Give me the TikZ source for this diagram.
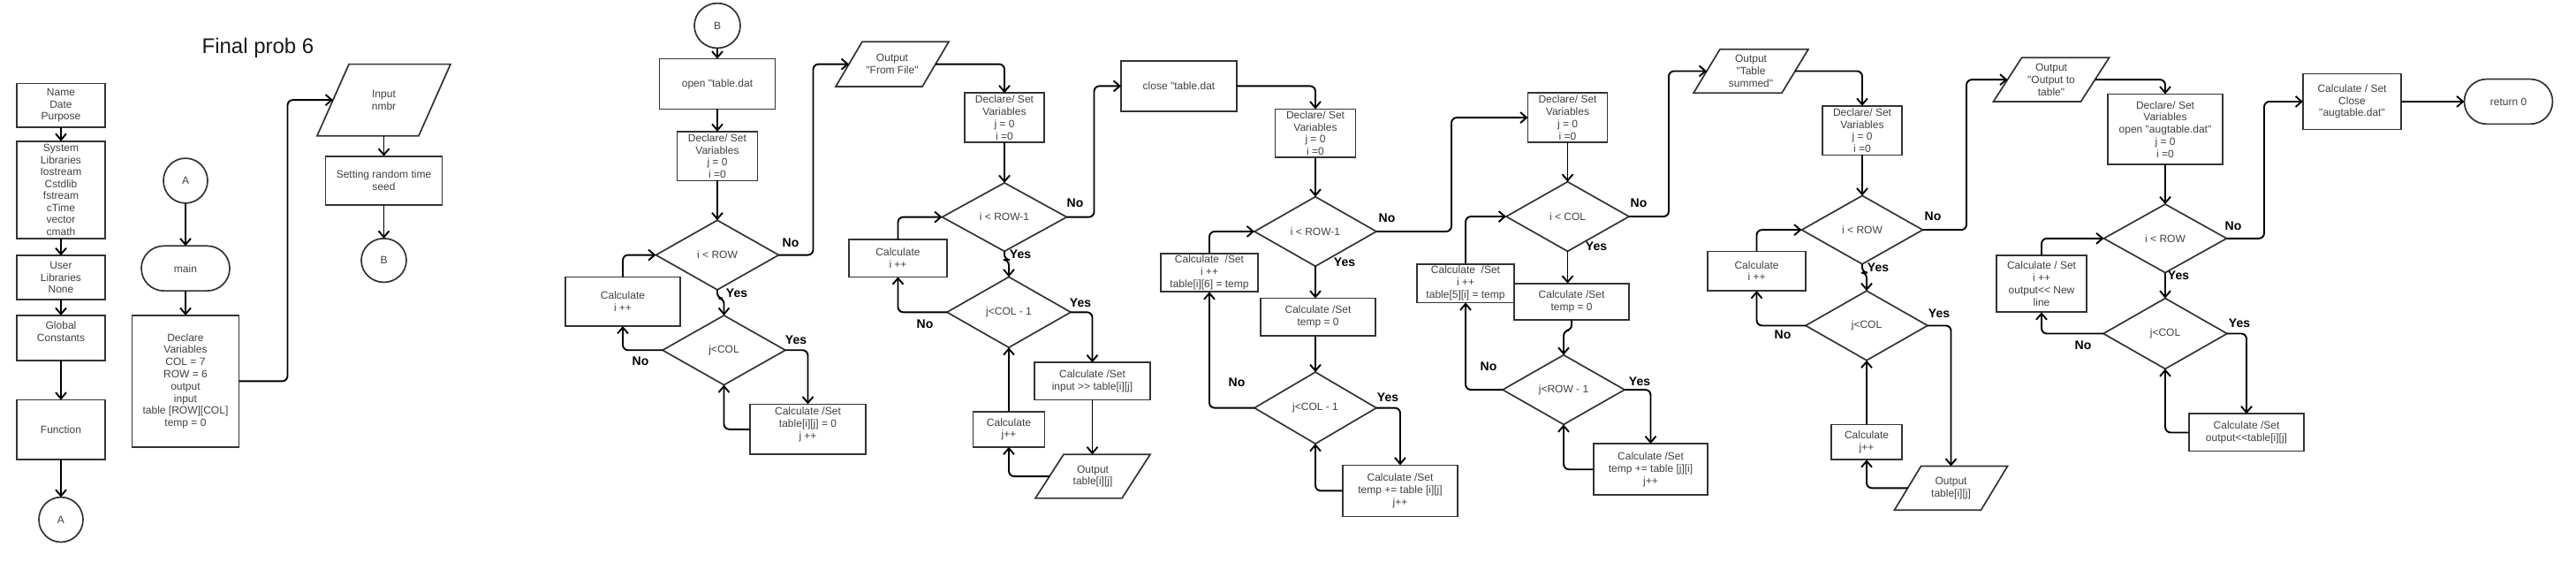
\documentclass[tikz,border=0pt]{standalone}
\usepackage{fontspec}
\newfontfamily\af{Liberation Sans}
\usetikzlibrary{shapes.geometric,shapes.misc,arrows.meta,calc}
\definecolor{boxc}{HTML}{333333}
\definecolor{txtc}{HTML}{404040}
\newcommand{\vs}{1.21}
\tikzset{
  base/.style={font=\af\fontsize{12}{13.8}\selectfont, text=txtc, align=center, inner sep=0.5pt, outer sep=0pt},
  box/.style={base, rectangle, draw=boxc, line width=1.7pt, fill=white},
  dia/.style={base, diamond, aspect=2.1, draw=boxc, line width=1.7pt, fill=white, inner sep=0pt},
  ell/.style={base, ellipse, draw=boxc, line width=1.7pt, fill=white, inner sep=0pt},
  term/.style={base, rounded rectangle, draw=boxc, line width=1.7pt, fill=white},
  ptext/.style={base, inner sep=0pt},
  pline/.style={draw=boxc, line width=1.7pt, line join=miter},
  conn/.style={draw=black, line width=1.9pt, rounded corners=6pt, -{Straight Barb[length=7pt,width=12pt]}},
  lbl/.style={font=\af\bfseries\fontsize{14}{15}\selectfont, text=black, inner sep=0pt},
  ttl/.style={font=\af\fontsize{24}{27}\selectfont, text=black!90, inner sep=0pt}
}
\newcommand{\pnode}[7]{%
  \node[ptext, minimum width=#4pt, minimum height=\vs*#5pt] (#1) at (#2,#3) {#7};
  \draw[pline] ([xshift=-#6pt]#1.south west) -- ([xshift=-#6pt]#1.south east) -- ([xshift=#6pt]#1.north east) -- ([xshift=#6pt]#1.north west) -- cycle;}
\begin{document}
\begin{tikzpicture}[x=1pt,y=-\vs pt]
\fill[white] (0,0) rectangle (2916,524.8);
\useasboundingbox (0,0) rectangle (2916,524.8);

\node[ttl] (title) at (292,45) {Final prob 6};

% column 0
\node[box, minimum width=100pt, minimum height=\vs*41pt] (n1) at (69,98.5) {Name\\Date\\Purpose};
\node[box, minimum width=100pt, minimum height=\vs*91pt, inner sep=0pt, font=\af\fontsize{12}{13.5}\selectfont] (n2) at (69,177.5) {System\\Libraries\\Iostream\\Cstdlib\\fstream\\cTime\\vector\\cmath};
\node[box, minimum width=100pt, minimum height=\vs*41pt] (n3) at (69,259.5) {User\\Libraries\\None};
\node[box, minimum width=100pt, minimum height=\vs*42pt] (n4) at (69,316) {Global\\Constants\\\mbox{}};
\node[box, minimum width=100pt, minimum height=\vs*56pt] (n5) at (69,402) {Function};
\node[ell, minimum width=50pt, minimum height=\vs*42pt] (n6) at (69,486) {A};

% column 1
\node[ell, minimum width=50pt, minimum height=\vs*42pt] (a2) at (210,169) {A};
\node[term, minimum width=101pt, minimum height=\vs*42pt] (main) at (210,251) {main};
\node[box, minimum width=121pt, minimum height=\vs*123pt] (decl) at (210,356.5) {Declare\\Variables\\COL = 7\\ROW = 6\\output\\input\\table [ROW][COL]\\temp = 0};

% column 2
\pnode{inp}{434.5}{93.5}{115}{67}{18}{Input\\nmbr}
\node[box, minimum width=132pt, minimum height=\vs*46pt] (seed) at (434.5,169) {Setting random time\\seed};
\node[ell, minimum width=51pt, minimum height=\vs*41pt] (b1) at (434.5,243.5) {B};

% column 3
\node[ell, minimum width=52pt, minimum height=\vs*42pt] (b2) at (812,24) {B};
\node[box, minimum width=131pt, minimum height=\vs*47pt] (open) at (812,78.5) {open "table.dat};
\node[box, minimum width=91pt, minimum height=\vs*46pt] (dv1) at (812,146) {Declare/ Set\\Variables\\j = 0\\i =0};
\node[dia, minimum width=139pt, minimum height=\vs*65pt] (d1) at (812,238.5) {i < ROW};
\node[dia, minimum width=139pt, minimum height=\vs*65pt] (d2) at (819.5,327.5) {j<COL};
\node[box, minimum width=131pt, minimum height=\vs*47pt, inner sep=0pt] (c1) at (914.5,401.5) {Calculate /Set\\table[i][j] = 0\\j ++\\\mbox{}};
\node[box, minimum width=130pt, minimum height=\vs*46pt] (c2) at (705,282) {Calculate\\i ++};

% column 4
\pnode{pff}{1010}{60}{98}{42}{15}{Output\\"From File"}
\node[box, minimum width=90pt, minimum height=\vs*46pt] (dv2) at (1137,110) {Declare/ Set\\Variables\\j = 0\\i =0};
\node[dia, minimum width=141pt, minimum height=\vs*64pt] (d3) at (1137,203) {i < ROW-1};
\node[dia, minimum width=140pt, minimum height=\vs*66pt] (d4) at (1142,292) {j<COL - 1};
\node[box, minimum width=131pt, minimum height=\vs*35pt] (c3) at (1236.5,356.5) {Calculate /Set\\input >> table[i][j]};
\pnode{po1}{1237}{445.5}{98}{41}{16}{Output\\table[i][j]}
\node[box, minimum width=81pt, minimum height=\vs*33pt] (c4) at (1142,401.5) {Calculate\\j++};
\node[box, minimum width=111pt, minimum height=\vs*35pt] (c5) at (1016.5,241.5) {Calculate\\i ++};
\node[box, minimum width=131pt, minimum height=\vs*47pt] (close) at (1334.5,80.5) {close "table.dat};

% column 5
\node[box, minimum width=91pt, minimum height=\vs*45pt] (dv3) at (1489,124.5) {Declare/ Set\\Variables\\j = 0\\i =0};
\node[dia, minimum width=138pt, minimum height=\vs*65pt] (d5) at (1489,216.5) {i < ROW-1};
\node[box, minimum width=130pt, minimum height=\vs*35pt] (c6) at (1492,296.5) {Calculate /Set\\temp = 0};
\node[dia, minimum width=138pt, minimum height=\vs*67pt] (d6) at (1489,381.5) {j<COL - 1};
\node[box, minimum width=130pt, minimum height=\vs*48pt] (c7) at (1585,459) {Calculate /Set\\temp += table [i][j]\\j++};
\node[box, minimum width=110pt, minimum height=\vs*36pt] (c8) at (1369,255) {Calculate\ \ /Set\\i ++\\table[i][6] = temp};

% column 6
\node[box, minimum width=90pt, minimum height=\vs*46pt] (dv4) at (1774.5,110) {Declare/ Set\\Variables\\j = 0\\i =0};
\node[dia, minimum width=139pt, minimum height=\vs*65pt] (d7) at (1774.5,202.5) {i < COL};
\node[box, minimum width=130pt, minimum height=\vs*34pt] (c9) at (1779,282) {Calculate /Set\\temp = 0};
\node[dia, minimum width=138pt, minimum height=\vs*65pt] (d8) at (1770,364.5) {j<ROW - 1};
\node[box, minimum width=129pt, minimum height=\vs*48pt] (c10) at (1868.5,439) {Calculate /Set\\temp += table [j][i]\\j++};
\node[box, minimum width=110pt, minimum height=\vs*36pt] (c11) at (1659,265) {Calculate\ \ /Set\\i ++\\table[5][i] = temp};

% column 7
\pnode{pts}{1982}{66.5}{100}{41}{15}{Output\\"Table\\summed"}
\node[box, minimum width=90pt, minimum height=\vs*46pt] (dv5) at (2108,122) {Declare/ Set\\Variables\\j = 0\\i =0};
\node[dia, minimum width=137pt, minimum height=\vs*64pt] (d9) at (2108,215) {i < ROW};
\node[dia, minimum width=138pt, minimum height=\vs*65pt] (d10) at (2113,304.5) {j<COL};
\pnode{po2}{2208.5}{456.5}{98}{41}{15}{Output\\table[i][j]}
\node[box, minimum width=80pt, minimum height=\vs*33pt] (c12) at (2113,413.5) {Calculate\\j++};
\node[box, minimum width=111pt, minimum height=\vs*37pt] (c13) at (1988.5,253.5) {Calculate\\i ++};

% column 8
\pnode{pot}{2322}{74.5}{99}{41}{16}{Output\\"Output to\\table"}
\node[box, minimum width=130pt, minimum height=\vs*66pt] (dv6) at (2451,121) {Declare/ Set\\Variables\\open "augtable.dat"\\j = 0\\i =0};
\node[dia, minimum width=139pt, minimum height=\vs*64pt] (d11) at (2451,223) {i < ROW};
\node[dia, minimum width=140pt, minimum height=\vs*66pt] (d12) at (2451,312) {j<COL};
\node[box, minimum width=130pt, minimum height=\vs*35pt] (c14) at (2543,404.5) {Calculate /Set\\output<<table[i][j]};
\node[box, minimum width=102pt, minimum height=\vs*53pt] (c15) at (2311,265.5) {Calculate / Set\\i ++\\output<< New\\line};
\node[box, minimum width=111pt, minimum height=\vs*52pt] (cl2) at (2662.5,95) {Calculate / Set\\Close\\"augtable.dat"};
\node[term, minimum width=101pt, minimum height=\vs*42pt] (ret) at (2839.5,95) {return 0};

% labels
\node[lbl] (l1n) at (895,227) {No};
\node[lbl] (l1y) at (834,274) {Yes};
\node[lbl] (l2y) at (901,318) {Yes};
\node[lbl] (l2n) at (725,338) {No};
\node[lbl] (l3n) at (1217,190) {No};
\node[lbl] (l3y) at (1155,238) {Yes};
\node[lbl] (l4y) at (1223,283) {Yes};
\node[lbl] (l4n) at (1047,303) {No};
\node[lbl] (l5n) at (1570,204) {No};
\node[lbl] (l5y) at (1522,245) {Yes};
\node[lbl] (l6y) at (1571,372) {Yes};
\node[lbl] (l6n) at (1400,358) {No};
\node[lbl] (l7n) at (1855,190) {No};
\node[lbl] (l7y) at (1807,230) {Yes};
\node[lbl] (l8y) at (1856,357) {Yes};
\node[lbl] (l8n) at (1685,343) {No};
\node[lbl] (l9n) at (2188,202) {No};
\node[lbl] (l9y) at (2126,250) {Yes};
\node[lbl] (l10y) at (2195,293) {Yes};
\node[lbl] (l10n) at (2018,313) {No};
\node[lbl] (l11n) at (2528,211) {No};
\node[lbl] (l11y) at (2466,258) {Yes};
\node[lbl] (l12y) at (2535,302) {Yes};
\node[lbl] (l12n) at (2358,323) {No};

% connectors column 0-2
\draw[conn] (n1.south) -- (n2.north);
\draw[conn] (n2.south) -- (n3.north);
\draw[conn] (n3.south) -- (n4.north);
\draw[conn] (n4.south) -- (n5.north);
\draw[conn] (n5.south) -- (n6.north);
\draw[conn] (a2.south) -- (main.north);
\draw[conn] (main.south) -- (decl.north);
\draw[conn] (decl.east) -- ++(55,0) |- (inp.west);
\draw[conn] (inp.south) -- (seed.north);
\draw[conn] (seed.south) -- (b1.north);

% column 3
\draw[conn] (b2.south) -- (open.north);
\draw[conn] (open.south) -- (dv1.north);
\draw[conn] (dv1.south) -- (d1.north);
\draw[conn] (d1.south) -- ++(0,8) -| (d2.north);
\draw[conn] (d1.east) -- ++(39,0) |- (pff.west);
\draw[conn] (d2.east) -| (c1.north);
\draw[conn] (c1.west) -| (d2.south);
\draw[conn] (d2.west) -| (c2.south);
\draw[conn] (c2.north) |- (d1.west);

% column 4
\draw[conn] (pff.east) -| (dv2.north);
\draw[conn] (dv2.south) -- (d3.north);
\draw[conn] (d3.south) -- ++(0,8) -| (d4.north);
\draw[conn] (d3.east) -- ++(31,0) |- (close.west);
\draw[conn] (d4.east) -| (c3.north);
\draw[conn] (c3.south) -- (c3.south |- po1.north);
\draw[conn] (po1.west) -| (c4.south);
\draw[conn] (c4.north) -- (d4.south);
\draw[conn] (d4.west) -| (c5.south);
\draw[conn] (c5.north) |- (d3.west);

% column 5
\draw[conn] (close.east) -| (dv3.north);
\draw[conn] (dv3.south) -- (d5.north);
\draw[conn] (d5.south) -- (d5.south |- c6.north);
\draw[conn] (c6.south -| d6.north) -- (d6.north);
\draw[conn] (d5.east) -- ++(85,0) |- (dv4.west);
\draw[conn] (d6.east) -| (c7.north);
\draw[conn] (c7.west) -| (d6.south);
\draw[conn] (d6.west) -| (c8.south);
\draw[conn] (c8.north) |- (d5.west);

% column 6
\draw[conn] (dv4.south) -- (d7.north);
\draw[conn] (d7.south) -- (d7.south |- c9.north);
\draw[conn] (c9.south) -- ++(0,10) -| (d8.north);
\draw[conn] (d7.east) -- ++(45,0) |- (pts.west);
\draw[conn] (d8.east) -| (c10.north);
\draw[conn] (c10.west) -| (d8.south);
\draw[conn] (d8.west) -| (c11.south);
\draw[conn] (c11.north) |- (d7.west);

% column 7
\draw[conn] (pts.east) -| (dv5.north);
\draw[conn] (dv5.south) -- (d9.north);
\draw[conn] (d9.south) -- ++(0,8) -| (d10.north);
\draw[conn] (d9.east) -- ++(49.5,0) |- (pot.west);
\draw[conn] (d10.east) -| (po2.north);
\draw[conn] (po2.west) -| (c12.south);
\draw[conn] (c12.north) -- (d10.south);
\draw[conn] (d10.west) -| (c13.south);
\draw[conn] (c13.north) |- (d9.west);

% column 8
\draw[conn] (pot.east) -| (dv6.north);
\draw[conn] (dv6.south) -- (d11.north);
\draw[conn] (d11.south) -- (d12.north);
\draw[conn] (d11.east) -- ++(42.5,0) |- (cl2.west);
\draw[conn] (d12.east) -| (c14.north);
\draw[conn] (c14.west) -| (d12.south);
\draw[conn] (d12.west) -| (c15.south);
\draw[conn] (c15.north) |- (d11.west);
\draw[conn] (cl2.east) -- (ret.west);
\end{tikzpicture}
\end{document}
